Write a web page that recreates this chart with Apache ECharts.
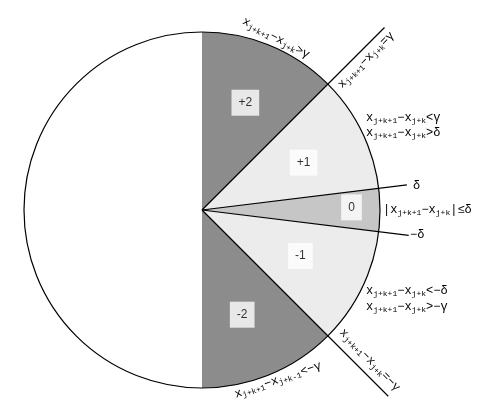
<!DOCTYPE html>
<html><head><meta charset="utf-8">
<script src="https://cdn.jsdelivr.net/npm/echarts@6/dist/echarts.min.js"></script>
<style>html,body{margin:0;background:#fff}#c{width:496px;height:417px}</style>
</head><body><div id="c"></div>
<script>
// sector names and angular spans (degrees, clockwise from top)
const sectorNames = ['+2', '+1', '0', '-1', '-2', ''];
const sectorSpans = [45, 38, 14, 38, 45, 180];
// boundary lines: angle (deg, ccw from east) and length (in circle radii)
const lineAngles = [45, 7, -7, -45];
const lineLengths = [1.45, 1.16, 1.17, 1.48];
// label boxes in polar coords: [radius (circle radii), angle]
const labelPos = [[0.65, 68], [0.63, 25], [0.84, 1], [0.61, -25], [0.63, -69]];
const labelText = ['+2', '+1', '0', '-1', '-2'];

const C = [202, 210], R = 178, RMAX = 1.5;
const colors = ['#8c8c8c', '#ececec', '#c6c6c6', '#ececec', '#8c8c8c', '#ffffff'];
const MONO = '"Liberation Mono", "DejaVu Sans Mono", monospace';

const rich = {
  m: {fontFamily: MONO, fontSize: 12, color: '#333', verticalAlign: 'middle', lineHeight: 14},
  s: {fontFamily: MONO, fontSize: 8, color: '#333', verticalAlign: 'bottom', lineHeight: 14}
};
function expr(sub2, rhs) {
  return '{m|x}{s|j+k+1}{m|−x}{s|' + sub2 + '}{m|' + rhs + '}';
}
function gtext(x, y, rotDeg, text, align) {
  return {type: 'text', x: x, y: y, rotation: rotDeg * Math.PI / 180, z: 10,
    style: {text: text, rich: rich, fontFamily: MONO, align: align || 'center', verticalAlign: 'middle'}};
}

const option = {
  animation: false,
  polar: {center: C, radius: R * RMAX},
  angleAxis: {type: 'value', min: 0, max: 360, startAngle: 0, clockwise: false, show: false},
  radiusAxis: {type: 'value', min: 0, max: RMAX, show: false},
  series: [
    {type: 'pie', center: C, radius: R, startAngle: 90, clockwise: true, z: 1,
     label: {show: false}, emphasis: {disabled: true},
     itemStyle: {borderWidth: 0},
     data: sectorNames.map((n, i) => ({name: n + i, value: sectorSpans[i], itemStyle: {color: colors[i]}}))},
    {type: 'pie', center: C, radius: R, z: 2, silent: true, label: {show: false},
     itemStyle: {color: 'transparent', borderColor: '#000', borderWidth: 1.2},
     data: [{value: 1}]},
    ...lineAngles.map((a, i) => ({type: 'line', coordinateSystem: 'polar', z: 3, symbol: 'none',
      lineStyle: {color: '#000', width: 1.2}, silent: true,
      data: [[0, a], [lineLengths[i], a]]})),
    {type: 'scatter', coordinateSystem: 'polar', z: 4, symbolSize: 0, silent: true,
     data: labelPos.map((p, i) => ({value: [p[0], p[1]], name: labelText[i]})),
     label: {show: true, position: 'inside', formatter: p => p.name, backgroundColor: '#fff',
       padding: [7, 7], fontFamily: 'Liberation Sans', fontSize: 12, color: '#000'}}
  ],
  graphic: [
    gtext(276, 38, -28, expr('j+k', '>γ')),
    gtext(366, 60, 45, expr('j+k', '=γ')),
    gtext(366, 118, 0, expr('j+k', '<γ'), 'left'),
    gtext(366, 133, 0, expr('j+k', '>δ'), 'left'),
    gtext(413, 186, 0, '{m|δ}', 'left'),
    gtext(383, 210, 0, '{m||x}{s|j+k+1}{m|−x}{s|j+k}{m||≤δ}', 'left'),
    gtext(410, 235, 0, '{m|−δ}', 'left'),
    gtext(366, 291, 0, expr('j+k', '<−δ'), 'left'),
    gtext(366, 307, 0, expr('j+k', '>−γ'), 'left'),
    gtext(370, 360, -46, expr('j+k', '=−γ')),
    gtext(278, 380, 19, expr('j+k-1', '<−γ'))
  ]
};
echarts.init(document.getElementById('c'), null, {renderer: 'canvas'}).setOption(option);
</script></body></html>
